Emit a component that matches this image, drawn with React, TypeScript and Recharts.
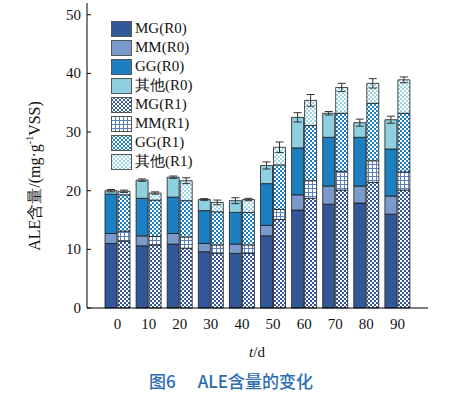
import React from 'react';
import { BarChart, Bar, XAxis, YAxis, ErrorBar } from 'recharts';

const days = ['0', '10', '20', '30', '40', '50', '60', '70', '80', '90'];

// R0
const mgR0 = [11.0, 10.6, 10.9, 9.6, 9.3, 12.3, 16.7, 17.7, 17.9, 16.0];
const mmR0 = [1.7, 1.7, 1.8, 1.4, 1.6, 1.8, 2.6, 3.1, 2.9, 3.1];
const ggR0 = [6.7, 6.4, 6.2, 5.6, 5.4, 7.1, 8.0, 8.3, 8.3, 8.0];
const otR0 = [0.6, 3.1, 3.4, 1.9, 2.0, 3.1, 5.2, 4.1, 2.5, 5.0];
const errR0 = [0.2, 0.2, 0.2, 0.15, 0.5, 0.6, 0.8, 0.3, 0.6, 0.6];

// R1
const mgR1 = [11.4, 10.75, 10.2, 9.3, 9.3, 15.1, 18.7, 20.1, 21.4, 20.1];
const mmR1 = [1.7, 1.45, 1.9, 1.45, 1.45, 1.7, 3.0, 3.2, 3.7, 3.1];
const ggR1 = [6.2, 6.2, 6.2, 5.65, 5.55, 7.6, 9.4, 9.9, 9.8, 10.0];
const otR1 = [0.6, 1.2, 3.4, 1.6, 2.2, 3.0, 4.3, 4.4, 3.4, 5.7];
const errR1 = [0.2, 0.2, 0.5, 0.4, 0.2, 0.9, 1.0, 0.7, 0.8, 0.5];

const yTicks = [0, 10, 20, 30, 40, 50];

const data = days.map((d, i) => ({
  day: d,
  mgR0: mgR0[i],
  mmR0: mmR0[i],
  ggR0: ggR0[i],
  otR0: otR0[i],
  errR0: errR0[i],
  mgR1: mgR1[i],
  mmR1: mmR1[i],
  ggR1: ggR1[i],
  otR1: otR1[i],
  errR1: errR1[i],
}));

const C_MG = '#33589a';
const C_MM = '#7a9acb';
const C_GG = '#1c7fc1';
const C_OT = '#8ecfe0';

const series = [
  { key: 'mgR0', name: 'MG(R0)', fill: C_MG, stack: 'r0' },
  { key: 'mmR0', name: 'MM(R0)', fill: C_MM, stack: 'r0' },
  { key: 'ggR0', name: 'GG(R0)', fill: C_GG, stack: 'r0' },
  { key: 'otR0', name: '其他(R0)', fill: C_OT, stack: 'r0', err: 'errR0' },
  { key: 'mgR1', name: 'MG(R1)', fill: 'url(#pMG)', stack: 'r1' },
  { key: 'mmR1', name: 'MM(R1)', fill: 'url(#pMM)', stack: 'r1' },
  { key: 'ggR1', name: 'GG(R1)', fill: 'url(#pGG)', stack: 'r1' },
  { key: 'otR1', name: '其他(R1)', fill: 'url(#pOT)', stack: 'r1', err: 'errR1' },
];

const serif = "'Liberation Serif', 'Times New Roman', serif";

const checker = (id: string, color: string) => (
  <pattern id={id} width={4} height={4} patternUnits="userSpaceOnUse">
    <rect width={4} height={4} fill={color} />
    <rect x={0} y={0} width={2} height={2} fill="#fff" />
    <rect x={2} y={2} width={2} height={2} fill="#fff" />
  </pattern>
);

const YTick = (props: any) => {
  const { x, y, payload } = props;
  return (
    <g>
      <line x1={x} x2={x + 4} y1={y} y2={y} stroke="#000" />
      <text x={x - 6} y={y} dy={5} textAnchor="end" fontSize={15} fontFamily={serif} fill="#111">
        {payload.value}
      </text>
    </g>
  );
};

const LegendBox = () => (
  <div style={{ position: 'absolute', left: 111, top: 19, fontFamily: serif, fontSize: 15, color: '#111' }}>
    {series.map((s) => (
      <div key={s.key} style={{ display: 'flex', alignItems: 'center', height: 19 }}>
        <svg width={21} height={16} style={{ marginRight: 3 }}>
          <rect x={0.5} y={0.5} width={20} height={15} fill={s.fill} stroke="#555" strokeWidth={1} />
        </svg>
        <span style={{ lineHeight: '19px' }}>{s.name}</span>
      </div>
    ))}
  </div>
);

export default function App() {
  return (
    <div style={{ position: 'absolute', left: 0, top: 0, width: 457, height: 393, background: '#fff' }}>
      <BarChart
        width={457}
        height={393}
        data={data}
        margin={{ top: 3, right: 29, bottom: 55, left: 37 }}
        barSize={12}
        barGap={1}
      >
        <defs>
          {checker('pMG', C_MG)}
          <pattern id="pMM" width={4} height={4} patternUnits="userSpaceOnUse">
            <rect width={4} height={4} fill="#fff" />
            <rect x={0} y={0} width={4} height={1} fill="#5a7fbf" />
            <rect x={0} y={0} width={1} height={4} fill="#5a7fbf" />
          </pattern>
          {checker('pGG', C_GG)}
          {checker('pOT', '#9fd6ea')}
        </defs>
        <XAxis
          dataKey="day"
          padding={{ left: 15, right: 15 }}
          tickLine={false}
          tickSize={0}
          tickMargin={10}
          height={30}
          axisLine={{ stroke: '#000' }}
          tick={{ fontSize: 15, fontFamily: serif, fill: '#111' }}
        />
        <YAxis
          width={50}
          domain={[0, 52]}
          ticks={yTicks}
          tickLine={false}
          tickSize={0}
          tickMargin={0}
          axisLine={{ stroke: '#000' }}
          tick={<YTick />}
        />
        {series.map((s) => (
          <Bar
            key={s.key}
            dataKey={s.key}
            stackId={s.stack}
            fill={s.fill}
            stroke="#1a1a1a"
            strokeWidth={0.8}
            isAnimationActive={false}
          >
            {s.err ? <ErrorBar dataKey={s.err} width={4} stroke="#333" strokeWidth={1} /> : null}
          </Bar>
        ))}
      </BarChart>
      <LegendBox />
      <div
        style={{
          position: 'absolute',
          left: 35,
          top: 176,
          transform: 'translate(-50%, -50%) rotate(-90deg)',
          whiteSpace: 'nowrap',
          fontFamily: serif,
          fontSize: 16,
          color: '#111',
        }}
      >
        ALE含量/(mg·g<span style={{ fontSize: 10, verticalAlign: 'super' }}>-1</span>VSS)
      </div>
      <div
        style={{
          position: 'absolute',
          left: 257,
          top: 352,
          transform: 'translate(-50%, -50%)',
          fontFamily: serif,
          fontSize: 15,
          color: '#111',
        }}
      >
        <i>t</i>/d
      </div>
      <div
        style={{
          position: 'absolute',
          left: 231,
          top: 380,
          transform: 'translate(-50%, -50%)',
          whiteSpace: 'nowrap',
          fontFamily: "'Noto Sans CJK SC', 'Noto Sans', sans-serif",
          fontSize: 17,
          fontWeight: 500,
          color: '#2b6cb3',
        }}
      >
        图6<span style={{ display: 'inline-block', width: 22 }} />ALE含量的变化
      </div>
    </div>
  );
}
